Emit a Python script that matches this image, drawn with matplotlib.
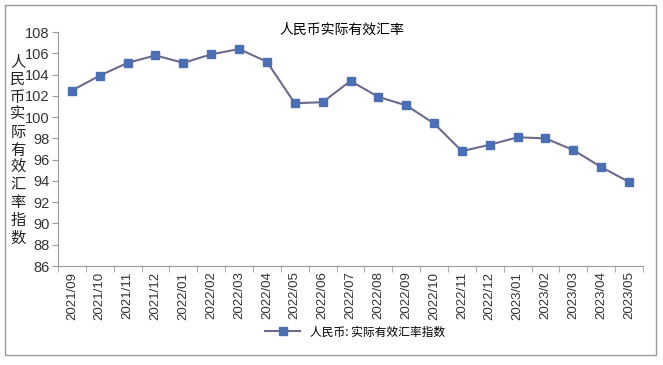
import numpy as np
import matplotlib.pyplot as plt
from matplotlib.patches import Rectangle

plt.rcParams['font.family'] = ['Liberation Sans', 'Noto Sans CJK SC', 'DejaVu Sans']

# Data
months = ["2021/09", "2021/10", "2021/11", "2021/12", "2022/01", "2022/02", "2022/03",
          "2022/04", "2022/05", "2022/06", "2022/07", "2022/08", "2022/09", "2022/10",
          "2022/11", "2022/12", "2023/01", "2023/02", "2023/03", "2023/04", "2023/05"]
reer = [102.5, 103.9, 105.1, 105.8, 105.1, 105.9, 106.4,
        105.2, 101.3, 101.4, 103.4, 101.9, 101.1, 99.4,
        96.8, 97.4, 98.1, 98.0, 96.9, 95.3, 93.9]
y_ticks = np.arange(86, 109, 2)

W, H = 663, 365
fig = plt.figure(figsize=(W / 100, H / 100), dpi=100)

# plot area in pixels: left 58, right 643, top 32, bottom 266
ax = fig.add_axes([58 / W, 1 - 266 / H, (643 - 58) / W, (266 - 32) / H])

x = np.arange(len(months))
ax.plot(x, reer, color='#6b6b8c', linewidth=1.5, marker='s', markersize=6,
        markerfacecolor='#4a6fb5', markeredgecolor='#4a6fb5',
        label='人民币: 实际有效汇率指数')

ax.set_xlim(-0.5, len(months) - 0.5)
ax.set_ylim(86, 108)
ax.set_yticks(y_ticks)
ax.set_yticklabels([str(v) for v in y_ticks], fontsize=10.5, color='#333333')

ax.set_xticks(x)
ax.set_xticklabels(months, rotation=90, fontsize=9.5, color='#333333')
ax.set_xticks(np.arange(-0.5, len(months)), minor=True)
ax.tick_params(axis='x', which='major', length=0, pad=4)
ax.tick_params(axis='x', which='minor', length=4, color='#999999')
ax.tick_params(axis='y', length=4, color='#999999', pad=2, direction='out')

for side in ['top', 'right']:
    ax.spines[side].set_visible(False)
for side in ['left', 'bottom']:
    ax.spines[side].set_color('#999999')
    ax.spines[side].set_linewidth(0.8)

# title
fig.text(342 / W, 1 - 30 / H, '人民币实际有效汇率', ha='center', va='center',
         fontsize=10, family=['Noto Sans CJK SC'])

# stacked vertical y label
fig.text(18 / W, 1 - 150 / H, '\n'.join('人民币实际有效汇率指数'), ha='center', va='center',
         fontsize=11, linespacing=1.05, family=['Noto Sans CJK SC'], color='#222222')

# legend
leg = fig.legend(loc='center', bbox_to_anchor=(355 / W, 1 - 332 / H), frameon=False,
                 fontsize=8.5, handlelength=3, prop={'family': ['Noto Sans CJK SC'], 'size': 8.5})

# outer border
fig.patches.append(Rectangle((5 / W, 1 - 355 / H), 651 / W, 350 / H, transform=fig.transFigure,
                             fill=False, edgecolor='#999999', linewidth=1))

fig.savefig('out.png', dpi=100)
